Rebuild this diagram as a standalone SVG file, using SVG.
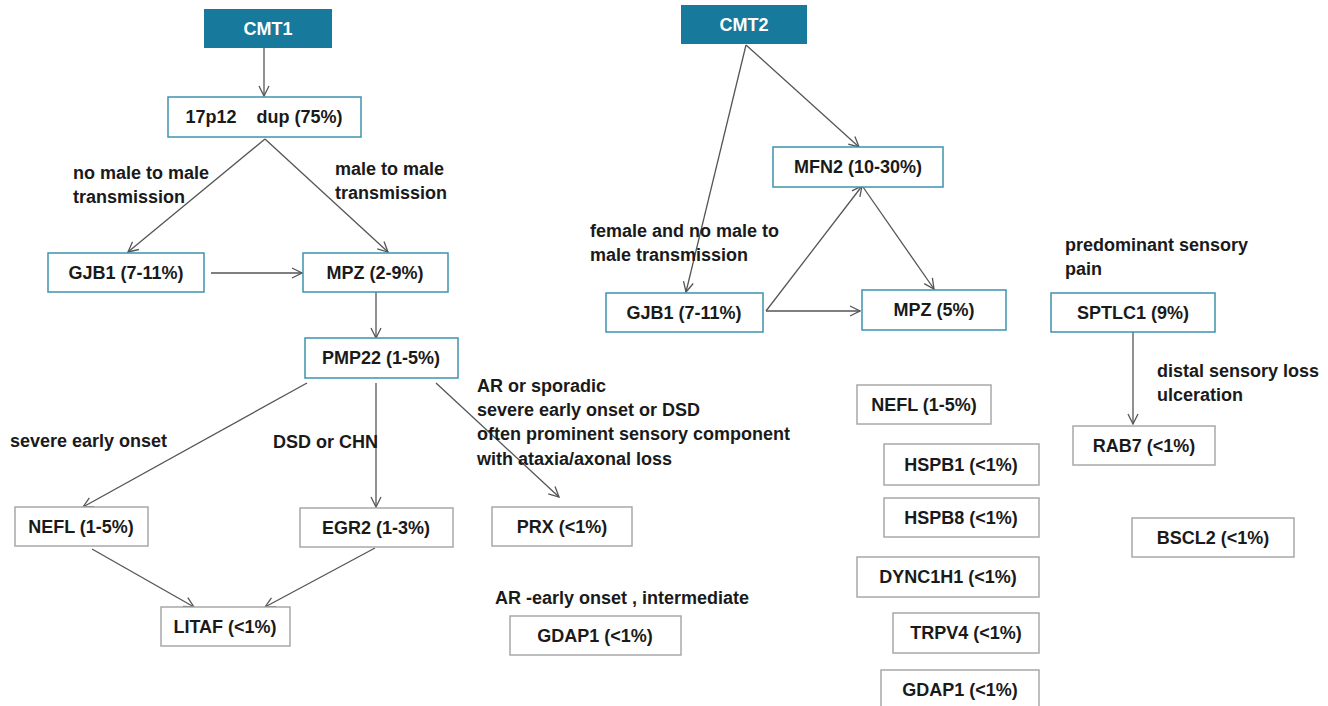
<svg xmlns="http://www.w3.org/2000/svg" width="1328" height="706" viewBox="0 0 1328 706">
<style>
.bg{fill:#ffffff}
.head rect{fill:#17799b}
.head text{fill:#ffffff;font-family:"Liberation Sans",Arial,sans-serif;font-weight:bold;font-size:18px;text-anchor:middle}
.tb rect{fill:#ffffff;stroke:#3f93ad;stroke-width:1.5}
.gb rect{fill:#ffffff;stroke:#a8a8a8;stroke-width:1.5}
.node text{fill:#1a1a1a;font-family:"Liberation Sans",Arial,sans-serif;font-weight:bold;font-size:18px;text-anchor:middle}
.lbl{fill:#1a1a1a;font-family:"Liberation Sans",Arial,sans-serif;font-weight:bold;font-size:18px}
#connectors line{stroke:#555555;stroke-width:1.3;fill:none;marker-end:url(#arr)}
</style>
<defs>
<marker id="arr" viewBox="0 0 12 12" refX="11" refY="6" markerWidth="12" markerHeight="12" markerUnits="userSpaceOnUse" orient="auto">
<path d="M1,1 L11,6 L1,11" fill="none" stroke="#555555" stroke-width="1.3"/>
</marker>
</defs>
<rect class="bg" x="0" y="0" width="1328" height="706"/>

<g id="connectors">
<line x1="264" y1="48" x2="264" y2="96"/>
<line x1="265" y1="139" x2="128" y2="252"/>
<line x1="265" y1="139" x2="388" y2="252"/>
<line x1="211" y1="273" x2="302" y2="273"/>
<line x1="376" y1="292" x2="376" y2="338"/>
<line x1="307" y1="383" x2="83" y2="507"/>
<line x1="376" y1="383" x2="376" y2="507"/>
<line x1="436" y1="383" x2="559" y2="497"/>
<line x1="92" y1="549" x2="194" y2="607"/>
<line x1="375" y1="548" x2="265" y2="607"/>
<line x1="746" y1="45" x2="859" y2="147"/>
<line x1="746" y1="45" x2="686" y2="292"/>
<line x1="766" y1="311" x2="862" y2="186"/>
<line x1="863" y1="187" x2="934" y2="289"/>
<line x1="766" y1="311" x2="860" y2="311"/>
<line x1="1133" y1="332" x2="1133" y2="424"/>
</g>

<g id="labels">
<text class="lbl" x="73" y="179">no male to male</text>
<text class="lbl" x="73" y="203">transmission</text>
<text class="lbl" x="335" y="175">male to male</text>
<text class="lbl" x="335" y="199">transmission</text>
<text class="lbl" x="10" y="447">severe early onset</text>
<text class="lbl" x="273" y="448">DSD or CHN</text>
<text class="lbl" x="477" y="392">AR or sporadic</text>
<text class="lbl" x="477" y="416">severe early onset or DSD</text>
<text class="lbl" x="477" y="440">often prominent sensory component</text>
<text class="lbl" x="477" y="465">with ataxia/axonal loss</text>
<text class="lbl" x="495" y="604">AR -early onset , intermediate</text>
<text class="lbl" x="590" y="237">female and no male to</text>
<text class="lbl" x="590" y="261">male transmission</text>
<text class="lbl" x="1065" y="251">predominant sensory</text>
<text class="lbl" x="1065" y="275">pain</text>
<text class="lbl" x="1157" y="377">distal sensory loss</text>
<text class="lbl" x="1157" y="401">ulceration</text>
</g>

<g id="cmt1" class="head"><rect x="204" y="9" width="128" height="39"/><text x="268" y="35">CMT1</text></g>
<g id="n17p12" class="node tb"><rect x="168" y="97" width="193" height="40"/><text x="264" y="123" xml:space="preserve">17p12    dup (75%)</text></g>
<g id="gjb1a" class="node tb"><rect x="48" y="253" width="156" height="39"/><text x="126" y="279">GJB1 (7-11%)</text></g>
<g id="mpza" class="node tb"><rect x="303" y="253" width="145" height="39"/><text x="375" y="279">MPZ (2-9%)</text></g>
<g id="pmp22" class="node tb"><rect x="305" y="338" width="153" height="40"/><text x="381" y="364">PMP22 (1-5%)</text></g>
<g id="nefla" class="node gb"><rect x="15" y="507" width="133" height="39"/><text x="81" y="533">NEFL (1-5%)</text></g>
<g id="egr2" class="node gb"><rect x="300" y="508" width="153" height="39"/><text x="376" y="534">EGR2 (1-3%)</text></g>
<g id="prx" class="node gb"><rect x="492" y="507" width="140" height="39"/><text x="562" y="533">PRX (&lt;1%)</text></g>
<g id="litaf" class="node gb"><rect x="161" y="607" width="129" height="39"/><text x="225" y="633">LITAF (&lt;1%)</text></g>
<g id="gdap1a" class="node gb"><rect x="510" y="616" width="171" height="39"/><text x="595" y="642">GDAP1 (&lt;1%)</text></g>

<g id="cmt2" class="head"><rect x="681" y="5" width="126" height="39"/><text x="744" y="31">CMT2</text></g>
<g id="mfn2" class="node tb"><rect x="773" y="147" width="170" height="40"/><text x="858" y="173">MFN2 (10-30%)</text></g>
<g id="gjb1b" class="node tb"><rect x="606" y="293" width="157" height="39"/><text x="684" y="319">GJB1 (7-11%)</text></g>
<g id="mpzb" class="node tb"><rect x="862" y="290" width="144" height="40"/><text x="934" y="316">MPZ (5%)</text></g>
<g id="sptlc1" class="node tb"><rect x="1051" y="293" width="164" height="39"/><text x="1133" y="319">SPTLC1 (9%)</text></g>
<g id="rab7" class="node gb"><rect x="1073" y="426" width="142" height="39"/><text x="1144" y="452">RAB7 (&lt;1%)</text></g>
<g id="bscl2" class="node gb"><rect x="1132" y="518" width="162" height="39"/><text x="1213" y="544">BSCL2 (&lt;1%)</text></g>
<g id="neflb" class="node gb"><rect x="857" y="385" width="134" height="39"/><text x="924" y="411">NEFL (1-5%)</text></g>
<g id="hspb1" class="node gb"><rect x="884" y="444" width="155" height="41"/><text x="961" y="471">HSPB1 (&lt;1%)</text></g>
<g id="hspb8" class="node gb"><rect x="884" y="498" width="155" height="39"/><text x="961" y="524">HSPB8 (&lt;1%)</text></g>
<g id="dync1h1" class="node gb"><rect x="857" y="557" width="182" height="40"/><text x="948" y="583">DYNC1H1 (&lt;1%)</text></g>
<g id="trpv4" class="node gb"><rect x="893" y="613" width="146" height="40"/><text x="966" y="639">TRPV4 (&lt;1%)</text></g>
<g id="gdap1b" class="node gb"><rect x="881" y="670" width="158" height="40"/><text x="960" y="696">GDAP1 (&lt;1%)</text></g>
</svg>
